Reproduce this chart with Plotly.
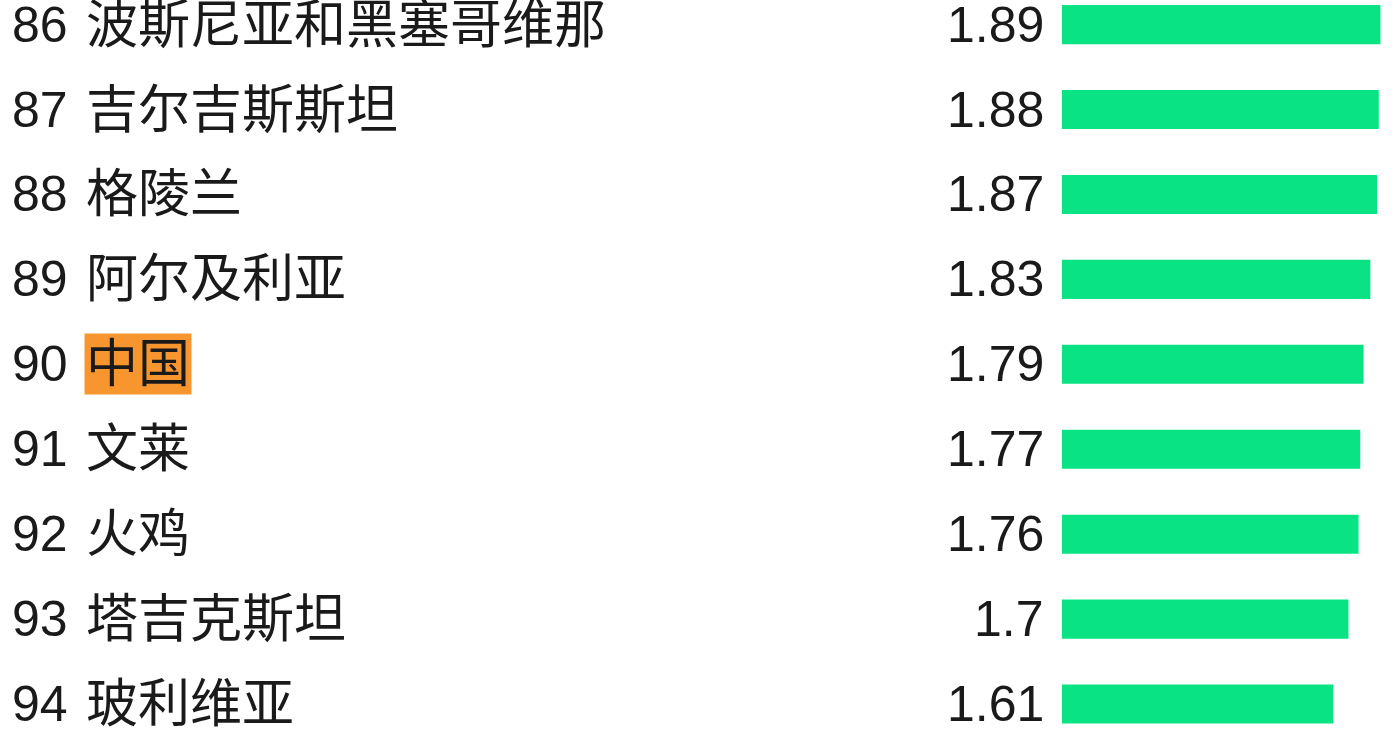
import plotly.graph_objects as go

# ranking data
ranks = [86, 87, 88, 89, 90, 91, 92, 93, 94]
countries = ["波斯尼亚和黑塞哥维那", "吉尔吉斯斯坦", "格陵兰", "阿尔及利亚", "中国",
             "文莱", "火鸡", "塔吉克斯坦", "玻利维亚"]
values = [1.89, 1.88, 1.87, 1.83, 1.79, 1.77, 1.76, 1.7, 1.61]
value_labels = ["1.89", "1.88", "1.87", "1.83", "1.79", "1.77", "1.76", "1.7", "1.61"]
highlight = "中国"

W, H = 1399, 738
font_family = "Liberation Sans, Arial, Noto Sans CJK SC"
text_color = "#1a1a1a"

fig = go.Figure()
fig.add_trace(go.Bar(
    x=values, y=countries, orientation='h',
    marker=dict(color="#0ae383", line=dict(width=0)),
    width=0.46, hoverinfo='skip'
))

annotations = []
for r, c, v in zip(ranks, countries, value_labels):
    annotations.append(dict(
        x=10 / W, xref='paper', y=c, yref='y', text=str(r),
        xanchor='left', yanchor='middle', showarrow=False,
        font=dict(size=50, color=text_color, family=font_family)
    ))
    annotations.append(dict(
        x=84 / W, xref='paper', y=c, yref='y', text=c,
        xanchor='left', yanchor='middle', showarrow=False,
        bgcolor="#f7962f" if c == highlight else None, borderpad=1,
        font=dict(size=52, color=text_color, family=font_family)
    ))
    annotations.append(dict(
        x=0, xref='x', y=c, yref='y', text=v,
        xanchor='right', yanchor='middle', showarrow=False, xshift=-16,
        font=dict(size=50, color=text_color, family=font_family)
    ))

fig.update_layout(
    width=W, height=H,
    margin=dict(l=0, r=0, t=0, b=0),
    paper_bgcolor='white', plot_bgcolor='white',
    showlegend=False,
    annotations=annotations,
    xaxis=dict(domain=[1062 / W, 1], range=[0, 2.0], visible=False, fixedrange=True),
    yaxis=dict(range=[8.4, -0.29], visible=False, fixedrange=True),
)

# drop the default page margin so the chart sits at the window corner
fig.write_html("out.html", config={'displayModeBar': False},
               post_script="document.body.style.margin='0';")
